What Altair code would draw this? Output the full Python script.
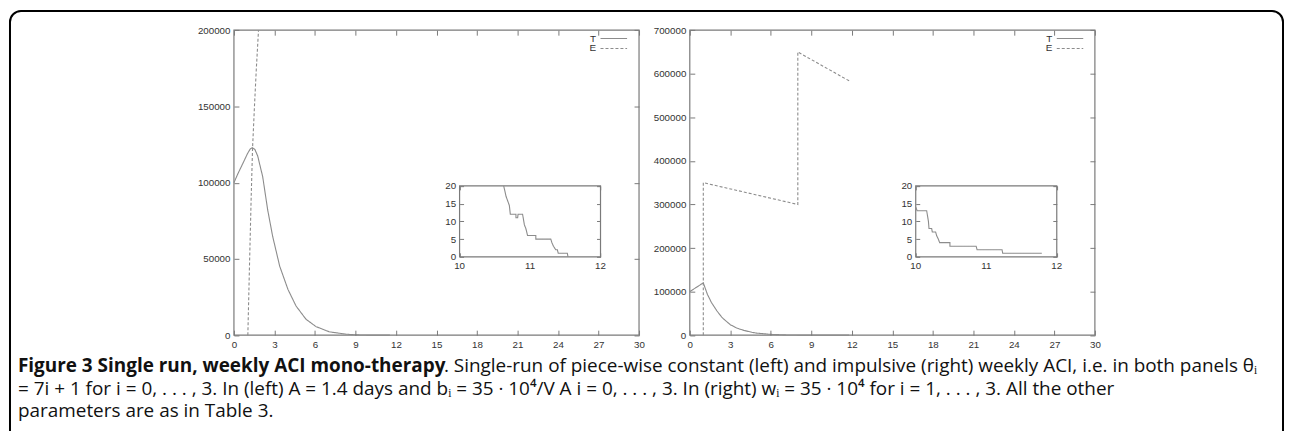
import altair as alt
import pandas as pd

# ---------------- data ----------------
SERIES = ["T", "E"]

X_TICKS = [0, 3, 6, 9, 12, 15, 18, 21, 24, 27, 30]
LEFT_Y_TICKS = [0, 50000, 100000, 150000, 200000]
RIGHT_Y_TICKS = [0, 100000, 200000, 300000, 400000, 500000, 600000, 700000]
INSET_X_TICKS = [10, 11, 12]
INSET_Y_TICKS = [0, 5, 10, 15, 20]

# left panel: piece-wise constant ACI
LEFT_T_DAYS = [0, 0.3, 0.66, 1.0, 1.2, 1.36, 1.55, 1.76, 2.13, 2.5, 2.87, 3.39,
               4.0, 4.6, 5.34, 6.08, 7.06, 8.28, 9.0, 10.0, 11.55]
LEFT_T_VALS = [100000, 106000, 112600, 119000, 122000, 123000, 121800, 117500,
               103900, 82100, 64700, 45200, 30000, 19100, 10400, 5600, 2200,
               650, 200, 20, 0]
LEFT_E_DAYS = [1.03, 1.15, 1.27, 1.38, 1.52, 1.66, 1.82]
LEFT_E_VALS = [0, 45000, 88000, 123000, 150000, 175000, 200000]

# right panel: impulsive ACI
RIGHT_T_DAYS = [0, 0.5, 1.0, 1.3, 1.6, 2.0, 2.4, 3.0, 3.5, 4.0, 4.6, 5.0, 6.0,
                7.0, 8.0, 10.0, 11.8]
RIGHT_T_VALS = [100000, 110000, 120000, 94000, 75000, 56000, 40000, 24000,
                16000, 11000, 6500, 4500, 1800, 600, 150, 14, 0]
RIGHT_E_DAYS = [1.0, 1.0, 8.0, 8.0, 11.9]
RIGHT_E_VALS = [0, 350000, 300000, 650000, 582000]

# insets: zoom on T between day 10 and 12
LEFT_INSET_DAYS = [10.626, 10.66, 10.706, 10.72, 10.80, 10.80, 10.824, 10.83,
                   10.894, 10.92, 10.94, 10.965, 11.082, 11.082, 11.294, 11.31,
                   11.332, 11.365, 11.388, 11.40, 11.529, 11.539]
LEFT_INSET_VALS = [20, 17, 14.5, 12, 12, 11, 11, 12, 12, 9, 8, 6, 6, 5, 5, 4,
                   3, 2, 2, 1, 1, 0]
RIGHT_INSET_DAYS = [10.0, 10.02, 10.155, 10.18, 10.188, 10.226, 10.235, 10.282,
                    10.296, 10.32, 10.339, 10.485, 10.485, 10.856, 10.87,
                    11.224, 11.233, 11.788]
RIGHT_INSET_VALS = [14, 13, 13, 10, 8, 8, 7, 7, 6, 5, 4, 4, 3, 3, 2, 2, 1, 1]

CAPTION_BOLD = "Figure 3 Single run, weekly ACI mono-therapy"
CAPTION_LINE1 = (". Single-run of piece-wise constant (left) and impulsive (right) "
                 "weekly ACI, i.e. in both panels \u03b8\u1d62")
CAPTION_LINE2 = ("= 7i + 1 for i = 0, . . . , 3. In (left) A = 1.4 days and "
                 "b\u1d62 = 35 \u00b7 10\u2074/V A i = 0, . . . , 3. In (right) "
                 "w\u1d62 = 35 \u00b7 10\u2074 for i = 1, . . . , 3. All the other")
CAPTION_LINE3 = "parameters are as in Table 3."

# ---------------- layout / style ----------------
W, H = 1282, 423
AX_FONT = "Liberation Sans"
AX_SIZE = 9.8
CAP_FONT = "Open Sans"
CAP_SIZE = 19
LINE_COL = "#8c8c8c"
FRAME_COL = "#7a7a7a"
LABEL_COL = "#333333"
TICK = 5
ITICK = 4
DASH_SCALE = alt.Scale(domain=SERIES, range=[[1, 0], [3, 2]])


def series_df(t_days, t_vals, e_days, e_vals):
    rows = []
    for i, (d, v) in enumerate(zip(t_days, t_vals)):
        rows.append({"day": d, "value": v, "series": "T", "idx": i})
    for i, (d, v) in enumerate(zip(e_days, e_vals)):
        rows.append({"day": d, "value": v, "series": "E", "idx": i})
    return pd.DataFrame(rows)


def axis(orient, offset, values, tick, labels=True, pad=4):
    return alt.Axis(orient=orient, offset=offset, values=values, tickCount=len(values),
                    tickSize=tick, tickColor=FRAME_COL, domain=False, grid=False,
                    labels=labels, labelPadding=pad, labelFont=AX_FONT,
                    labelFontSize=AX_SIZE, labelColor=LABEL_COL, format="d",
                    title=None, zindex=1, labelFlush=False, labelOverlap=False)


def panel(df, xdom, ydom, xticks, yticks, x0, x1, ytop, ybot, tick,
          text_xlabels=False):
    xs = alt.Scale(domain=xdom, range=[x0, x1], nice=False, zero=False)
    ys = alt.Scale(domain=ydom, range=[ybot, ytop], nice=False, zero=False)
    lines = alt.Chart(df).mark_line(color=LINE_COL, strokeWidth=1.1, clip=True).encode(
        x=alt.X("day:Q", scale=xs,
                axis=axis("bottom", (ybot - tick) - H, xticks, tick,
                          labels=not text_xlabels)),
        y=alt.Y("value:Q", scale=ys,
                axis=axis("left", -(x0 + tick), yticks, tick)),
        strokeDash=alt.StrokeDash("series:N", scale=DASH_SCALE, legend=None),
        order=alt.Order("idx:Q"),
    )
    frame_df = pd.DataFrame({"xa": [xdom[0]], "xb": [xdom[1]],
                             "ya": [ydom[0]], "yb": [ydom[1]]})
    frame = alt.Chart(frame_df).mark_rect(
        fill="white", stroke=FRAME_COL, strokeWidth=1.2
    ).encode(
        x=alt.X("xa:Q", scale=xs,
                axis=axis("top", -(ytop + tick), xticks, tick, labels=False)),
        x2="xb:Q",
        y=alt.Y("ya:Q", scale=ys,
                axis=axis("right", (x1 - tick) - W, yticks, tick, labels=False)),
        y2="yb:Q",
    )
    layers = [frame, lines]
    if text_xlabels:
        tick_df = pd.DataFrame({"day": xticks})
        layers.append(
            alt.Chart(tick_df).mark_text(
                baseline="top", align="center", font=AX_FONT, fontSize=AX_SIZE,
                color=LABEL_COL
            ).encode(
                x=alt.X("day:Q", scale=xs, axis=None),
                y=alt.value(ybot + 4.5),
                text=alt.Text("day:Q", format="d"),
            )
        )
    return alt.layer(*layers)


def key(sym_x0, sym_x1, row_y0, row_y1):
    """Gnuplot-style key: label to the left of the line sample."""
    kdf = pd.DataFrame({"series": SERIES})
    ys = alt.Scale(type="point", domain=SERIES, range=[row_y0, row_y1], padding=0)
    sample = alt.Chart(kdf).mark_rule(color=LINE_COL, strokeWidth=1.1).encode(
        x=alt.value(sym_x0), x2=alt.value(sym_x1),
        y=alt.Y("series:N", scale=ys, axis=None),
        strokeDash=alt.StrokeDash("series:N", scale=DASH_SCALE, legend=None),
    )
    label = alt.Chart(kdf).mark_text(
        align="right", baseline="middle", font=AX_FONT, fontSize=10, color=LABEL_COL
    ).encode(
        x=alt.value(sym_x0 - 4.5),
        y=alt.Y("series:N", scale=ys, axis=None),
        text="series:N",
    )
    return alt.layer(sample, label)


left_df = series_df(LEFT_T_DAYS, LEFT_T_VALS, LEFT_E_DAYS, LEFT_E_VALS)
right_df = series_df(RIGHT_T_DAYS, RIGHT_T_VALS, RIGHT_E_DAYS, RIGHT_E_VALS)
left_inset_df = series_df(LEFT_INSET_DAYS, LEFT_INSET_VALS, [], [])
right_inset_df = series_df(RIGHT_INSET_DAYS, RIGHT_INSET_VALS, [], [])

left_main = panel(left_df, [0, 30], [0, 200000], X_TICKS, LEFT_Y_TICKS,
                  227, 634, 21.3, 327.7, TICK)
right_main = panel(right_df, [0, 30], [0, 700000], X_TICKS, RIGHT_Y_TICKS,
                   685, 1092, 21.3, 327.7, TICK)
left_inset = panel(left_inset_df, [10, 12], [0, 20], INSET_X_TICKS, INSET_Y_TICKS,
                   453.7, 595.3, 177.7, 249, ITICK, text_xlabels=True)
right_inset = panel(right_inset_df, [10, 12], [0, 20], INSET_X_TICKS, INSET_Y_TICKS,
                    912, 1053.7, 177.7, 249, ITICK, text_xlabels=True)
left_key = key(595.3, 622, 29.7, 39.7)
right_key = key(1053.7, 1080.3, 29.7, 39.7)

one = pd.DataFrame({"k": [0]})
border = alt.Chart(one).mark_rect(
    cornerRadius=11, fillOpacity=0, stroke="black", strokeWidth=2
).encode(x=alt.value(2), x2=alt.value(W - 1), y=alt.value(2), y2=alt.value(H + 60))


def cap(text, x, y, bold=False):
    return alt.Chart(one).mark_text(
        text=text, align="left", baseline="middle", font=CAP_FONT, fontSize=CAP_SIZE,
        fontWeight="bold" if bold else "normal", color="#111111"
    ).encode(x=alt.value(x), y=alt.value(y))


captions = [
    cap(CAPTION_BOLD, 10, 359, bold=True),
    cap(CAPTION_LINE1, 438, 359),
    cap(CAPTION_LINE2, 10, 381.5),
    cap(CAPTION_LINE3, 10, 404),
]

chart = alt.layer(
    border, left_main, right_main, left_inset, right_inset, left_key, right_key,
    *captions
).resolve_scale(
    x="independent", y="independent", strokeDash="independent"
).properties(
    width=W, height=H, padding=0,
    autosize=alt.AutoSizeParams(type="none"),
).configure_view(stroke=None)

chart.save("out.html", embed_options={"renderer": "svg", "actions": False})
